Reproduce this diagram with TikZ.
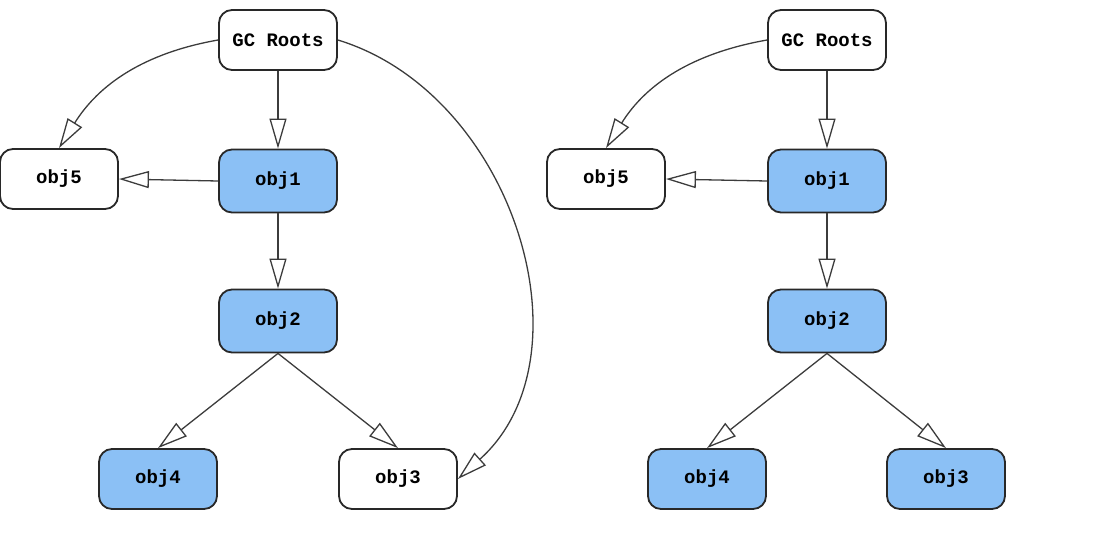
\documentclass[tikz,border=0pt]{standalone}
\usepackage{fontspec}
\setmonofont{Liberation Mono}
\usetikzlibrary{arrows.meta}
\definecolor{objblue}{RGB}{139,192,245}
\definecolor{edgegray}{RGB}{60,60,60}
\definecolor{boxgray}{RGB}{40,40,40}
\tikzset{
  objbox/.style={draw=boxgray, line width=1.8pt, rounded corners=13pt, minimum width=118pt, minimum height=60pt, inner sep=0pt, font=\fontsize{19}{22}\selectfont\ttfamily\bfseries, fill=white},
  live/.style={objbox, fill=objblue},
  ref/.style={draw=edgegray, line width=1.3pt, -{Triangle[length=30pt, width=17pt, fill=white, line width=1.3pt]}}
}
\begin{document}
\begin{tikzpicture}[x=1pt,y=1pt]
\useasboundingbox (0,0) rectangle (1106,-546);
% left diagram
\node[objbox] (gcL) at (278,-40) {GC Roots};
\node[objbox] (o5L) at (59,-179) {obj5};
\node[live, minimum height=63pt] (o1L) at (278,-181) {obj1};
\node[live, minimum height=63pt] (o2L) at (278,-321) {obj2};
\node[live] (o4L) at (158,-479) {obj4};
\node[objbox] (o3L) at (398,-479) {obj3};
\draw[ref] (gcL.west) to[out=190, in=58] (o5L.north);
\draw[ref] (gcL.south) -- (o1L.north);
\draw[ref] (o1L.west) -- (o5L.east);
\draw[ref] (o1L.south) -- (o2L.north);
\draw[ref] (o2L.south) -- (o4L.north);
\draw[ref] (o2L.south) -- (o3L.north);
\draw[ref] (gcL.east) to[out=-17, in=42, looseness=1.03] (o3L.east);
% right diagram
\node[objbox] (gcR) at (827,-40) {GC Roots};
\node[objbox] (o5R) at (606,-179) {obj5};
\node[live, minimum height=63pt] (o1R) at (827,-181) {obj1};
\node[live, minimum height=63pt] (o2R) at (827,-321) {obj2};
\node[live] (o4R) at (707,-479) {obj4};
\node[live] (o3R) at (946,-479) {obj3};
\draw[ref] (gcR.west) to[out=190, in=58] (o5R.north);
\draw[ref] (gcR.south) -- (o1R.north);
\draw[ref] (o1R.west) -- (o5R.east);
\draw[ref] (o1R.south) -- (o2R.north);
\draw[ref] (o2R.south) -- (o4R.north);
\draw[ref] (o2R.south) -- (o3R.north);
\end{tikzpicture}
\end{document}
